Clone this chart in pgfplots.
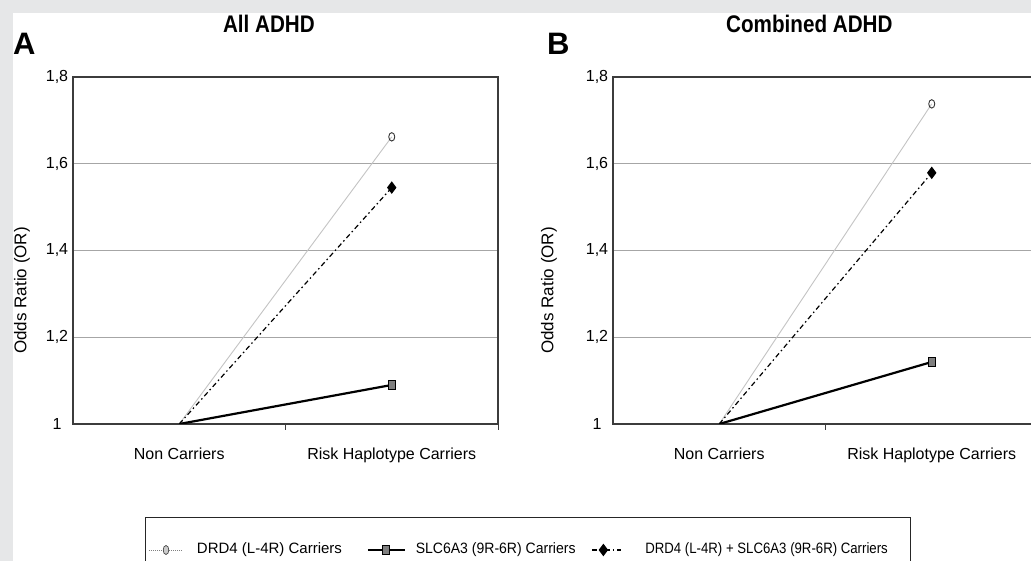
\documentclass[border=0pt]{standalone}
\usepackage{pgfplots}
\pgfplotsset{compat=1.18}
\usepackage{fontspec}
\setmainfont{Liberation Sans}
\usepackage{graphicx}

\definecolor{bggray}{HTML}{E6E7E8}
\definecolor{axisgray}{HTML}{3C3C3C}
\definecolor{gridgray}{HTML}{A6A6A6}
\definecolor{drdline}{HTML}{C4C4C4}
\definecolor{sqfill}{HTML}{7F7F7F}

% all ADHD
\pgfplotstableread{
x   drd   slc   both
0.5 1.000 1.000 1.000
1.5 1.662 1.090 1.545
}\tabA
% combined ADHD
\pgfplotstableread{
x   drd   slc   both
0.5 1.000 1.000 1.000
1.5 1.738 1.143 1.579
}\tabB

\pgfplotsset{
  panel/.style={
    scale only axis, width=425pt, height=347pt, anchor=south west,
    xmin=0, xmax=2, ymin=1, ymax=1.8,
    axis line style={draw=axisgray, line width=1.2pt},
    ytick={1,1.2,1.4,1.6,1.8},
    ymajorgrids, grid style={gridgray, line width=0.7pt},
    ytick style={draw=none},
    yticklabel style={font=\fontsize{16}{16}\selectfont, anchor=center, inner sep=0pt, xshift=-10pt,
      /pgf/number format/.cd, use comma, fixed, precision=1, assume math mode=true},
    xtick={1,2}, xticklabels={},
    tick pos=left, tick align=outside, major tick length=6pt,
    xtick style={draw=axisgray, line width=0.8pt},
    extra x ticks={0.5,1.5},
    extra x tick labels={Non Carriers, Risk Haplotype Carriers},
    extra x tick style={major tick length=0pt, xmajorgrids=false,
      tick label style={font=\fontsize{16}{16}\selectfont, anchor=base, inner sep=0pt, yshift=-36pt}},
    ylabel={Odds Ratio (OR)},
    every axis y label/.style={rotate=90, anchor=north, inner sep=0pt, font=\fontsize{17}{17}\selectfont},
    title style={anchor=base, yshift=38pt, inner sep=0pt, font=\bfseries\fontsize{24}{24}\selectfont},
  },
  sdrd/.style={drdline, line width=0.9pt, mark=o, mark size=4.2pt, mark indices={2},
    mark options={solid, draw=black!80, fill=white, line width=0.9pt, xscale=0.72}},
  sslc/.style={black, line width=2.2pt, mark=square*, mark size=4.5pt, mark indices={2},
    mark options={solid, draw=black, fill=sqfill, line width=0.8pt, xscale=0.78}},
  sboth/.style={black, line width=1.2pt, dash pattern=on 5pt off 3pt on 1.5pt off 3pt,
    mark=diamond*, mark size=5.3pt, mark indices={2}, mark options={solid, fill=black, draw=black}},
  limgdrd/.style={legend image code/.code={
    \draw[black!50, line width=0.6pt, mark=none, dash pattern=on 1pt off 1pt] plot coordinates {(4pt,0pt) (37pt,0pt)};
    \draw[black!80, line width=0.6pt, mark=*, mark size=4.5pt, mark indices={1},
      mark options={solid, xscale=0.62, fill=gray!40, draw=black!80}, only marks] plot coordinates {(21pt,0pt)};
    \path[draw=none, fill=none] (0pt,0pt) -- (52pt,0pt);}},
  limgslc/.style={legend image code/.code={
    \draw[##1, mark indices={2}, line width=1.6pt] plot coordinates {(0pt,0pt) (18.5pt,0pt) (37pt,0pt)};
    \path[draw=none, fill=none] (0pt,0pt) -- (48pt,0pt);}},
  limgboth/.style={legend image code/.code={
    \draw[##1, mark indices={2}] plot coordinates {(0pt,0pt) (11pt,0pt) (29pt,0pt)};
    \path[draw=none, fill=none] (0pt,0pt) -- (53pt,0pt);}},
}

\begin{document}
\begin{tikzpicture}
\useasboundingbox (0pt,0pt) rectangle (1031pt,561pt);
\clip (0pt,0pt) rectangle (1031pt,561pt);
\fill[bggray] (0pt,0pt) rectangle (1031pt,561pt);
\fill[white] (13pt,0pt) rectangle (1031pt,548pt);

\begin{axis}[panel, at={(73pt,137pt)},
  title={\scalebox{0.86}[1]{All ADHD}},
  title style={at={(axis description cs:0.461,1)}},
  ylabel style={at={(axis description cs:-0.139,0.385)}},
  legend columns=3,
  legend style={at={(rel axis cs:0.16941,-0.26801)}, anchor=north west,
    draw=black!85, line width=0.9pt, inner xsep=0pt, inner ysep=26pt, outer sep=0pt,
    font=\fontsize{15}{15}\selectfont, column sep=0pt, row sep=0pt,
    nodes={inner sep=0pt, text height=11pt, text depth=3pt}},
  legend cell align=left,
]
\addplot[sdrd, limgdrd] table[x=x, y=drd] {\tabA};
\addlegendentry{\makebox[170pt][l]{DRD4 (L-4R) Carriers}}
\addplot[sslc, limgslc] table[x=x, y=slc] {\tabA};
\addlegendentry{\makebox[176pt][l]{\scalebox{0.935}[1]{SLC6A3 (9R-6R) Carriers}}}
\addplot[sboth, limgboth] table[x=x, y=both] {\tabA};
\addlegendentry{\makebox[265pt][l]{\scalebox{0.88}[1]{DRD4 (L-4R) + SLC6A3 (9R-6R) Carriers}}}
\end{axis}

\begin{axis}[panel, at={(613pt,137pt)},
  title={\scalebox{0.86}[1]{Combined ADHD}},
  title style={at={(axis description cs:0.462,1)}},
  ylabel style={at={(axis description cs:-0.17,0.385)}},
]
\addplot[sdrd] table[x=x, y=drd] {\tabB};
\addplot[sslc] table[x=x, y=slc] {\tabB};
\addplot[sboth] table[x=x, y=both] {\tabB};
\end{axis}

\node[anchor=base west, inner sep=0pt, font=\bfseries\fontsize{31}{31}\selectfont] at (13pt,506pt) {A};
\node[anchor=base west, inner sep=0pt, font=\bfseries\fontsize{31}{31}\selectfont] at (547pt,506pt) {B};
\end{tikzpicture}
\end{document}
